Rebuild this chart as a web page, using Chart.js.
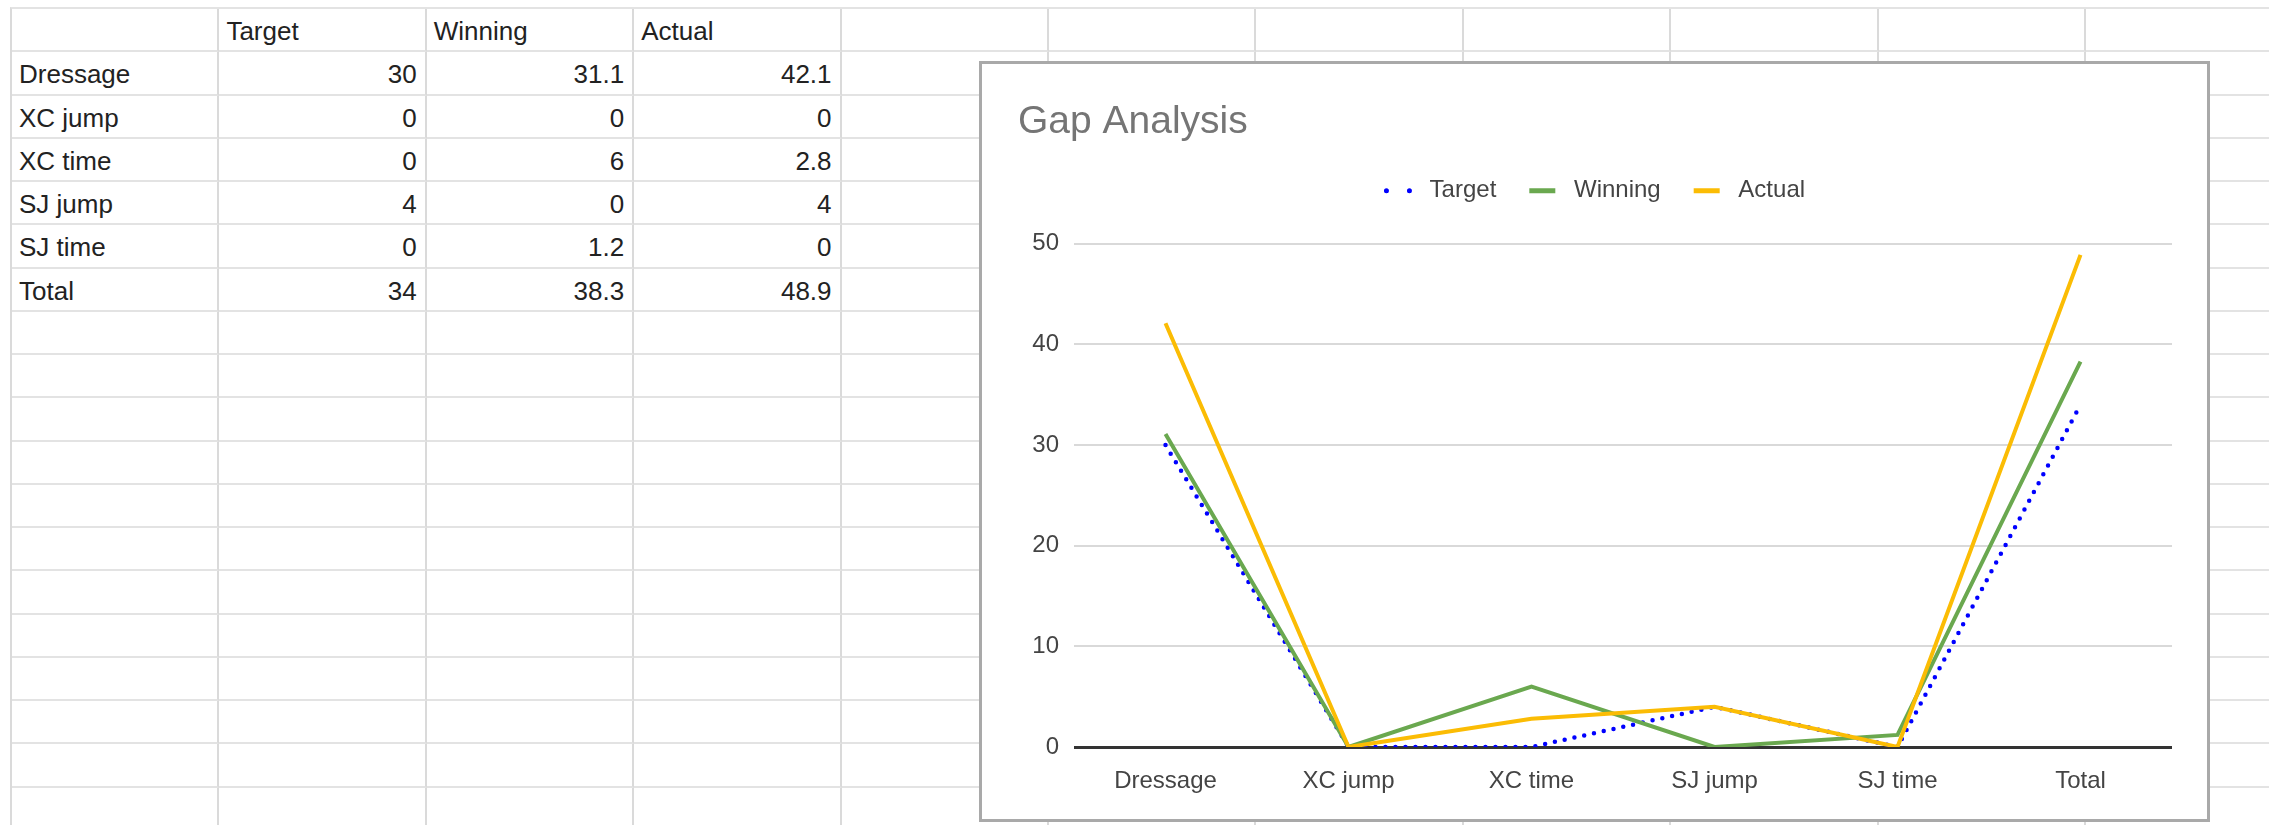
<!DOCTYPE html>
<html>
<head>
<meta charset="utf-8">
<title>Gap Analysis</title>
<script src="https://cdn.jsdelivr.net/npm/chart.js@4/dist/chart.umd.min.js"></script>
<style>
  html, body { margin: 0; padding: 0; background: #fff; }
  body {
    width: 2269px;
    height: 825px;
    overflow: hidden;
    position: relative;
    font-family: 'Liberation Sans', Arial, sans-serif;
  }
  .sheet {
    position: absolute;
    left: 10px;
    top: 7px;
    display: grid;
    grid-template-columns: repeat(11, 207.4px);
    grid-auto-rows: 43.25px;
    border-left: 2px solid #dadada;
    border-top: 2px solid #e3e3e3;
  }
  .cell {
    box-sizing: border-box;
    border-right: 2px solid #dadada;
    border-bottom: 2px solid #e3e3e3;
    padding: 0 8px 0 7px;
    font-size: 26px;
    line-height: 44.5px;
    color: #222;
    white-space: nowrap;
  }
  .cell.num { text-align: right; }
  .chart-box {
    position: absolute;
    left: 979px;
    top: 61px;
    width: 1231px;
    height: 761px;
    box-sizing: border-box;
    border: 3px solid #a9a9a9;
    background: #fff;
  }
  .chart-box canvas { display: block; }
</style>
</head>
<body>
<div class="sheet" id="sheet"></div>
<div class="chart-box">
  <canvas id="chart" width="1225" height="755"></canvas>
</div>
<script>
const categories = ['Dressage', 'XC jump', 'XC time', 'SJ jump', 'SJ time', 'Total'];
const seriesNames = ['Target', 'Winning', 'Actual'];
const target = [30, 0, 0, 4, 0, 34];
const winning = [31.1, 0, 6, 0, 1.2, 38.3];
const actual = [42.1, 0, 2.8, 4, 0, 48.9];
const yTicks = [0, 10, 20, 30, 40, 50];

// spreadsheet behind the chart
const sheet = document.getElementById('sheet');
const columns = [target, winning, actual];
const ROWS = 19;
const COLS = 11;
for (let r = 0; r < ROWS; r++) {
  for (let c = 0; c < COLS; c++) {
    const cell = document.createElement('div');
    cell.className = 'cell';
    if (r === 0 && c >= 1 && c <= columns.length) {
      cell.textContent = seriesNames[c - 1];
    } else if (r >= 1 && r <= categories.length) {
      if (c === 0) {
        cell.textContent = categories[r - 1];
      } else if (c <= columns.length) {
        cell.textContent = String(columns[c - 1][r - 1]);
        cell.classList.add('num');
      }
    }
    sheet.appendChild(cell);
  }
}

Chart.defaults.font.family = "'Liberation Sans', Arial, sans-serif";
Chart.defaults.color = '#444';

const baseLabels = Chart.defaults.plugins.legend.labels.generateLabels;
const ctx = document.getElementById('chart').getContext('2d');

new Chart(ctx, {
  type: 'line',
  data: {
    labels: categories,
    datasets: [
      {
        label: seriesNames[0],
        data: target,
        borderColor: '#0000ff',
        borderWidth: 4.5,
        borderDash: [0, 10],
        borderCapStyle: 'round',
        order: 3,
      },
      {
        label: seriesNames[1],
        data: winning,
        borderColor: '#6aa84f',
        borderWidth: 4,
        order: 2,
      },
      {
        label: seriesNames[2],
        data: actual,
        borderColor: '#fbbc04',
        borderWidth: 4,
        order: 1,
      },
    ],
  },
  options: {
    responsive: false,
    animation: false,
    elements: {
      point: { radius: 0 },
      line: { tension: 0, fill: false },
    },
    layout: {
      padding: { left: 36, right: 35, top: 0, bottom: 12 },
    },
    plugins: {
      title: {
        display: true,
        text: 'Gap Analysis',
        align: 'start',
        color: '#757575',
        font: { size: 39, weight: 'normal' },
        padding: { top: 35, bottom: 0 },
      },
      legend: {
        labels: {
          usePointStyle: true,
          pointStyle: 'line',
          pointStyleWidth: 26,
          padding: 33,
          color: '#444',
          font: { size: 24 },
          // keep sheet order in the legend, two dots for the dotted series
          generateLabels: (chart) => baseLabels(chart)
            .sort((a, b) => a.datasetIndex - b.datasetIndex)
            .map((item) => {
              item.text = ' ' + item.text;
              item.lineWidth = 5;
              if (item.datasetIndex === 0) {
                item.lineCap = 'round';
                item.lineDash = [0, 23];
                item.lineDashOffset = -1.5;
              }
              return item;
            }),
        },
      },
      tooltip: { enabled: false },
    },
    scales: {
      x: {
        offset: true,
        grid: { display: false },
        border: { display: false },
        ticks: { padding: 12, font: { size: 24 }, color: '#444' },
        afterFit: (scale) => { scale.height = 60; },
      },
      // empty band between legend and plot
      legendGap: {
        type: 'category',
        position: 'top',
        grid: { display: false },
        border: { display: false },
        ticks: { display: false },
        afterFit: (scale) => { scale.height = 31; },
      },
      y: {
        min: yTicks[0],
        max: yTicks[yTicks.length - 1],
        border: { display: false },
        ticks: {
          stepSize: yTicks[1] - yTicks[0],
          padding: 15,
          font: { size: 24 },
          color: '#444',
        },
        grid: {
          drawTicks: false,
          color: (c) => (c.tick && c.tick.value === 0 ? '#333' : '#d9d9d9'),
          lineWidth: (c) => (c.tick && c.tick.value === 0 ? 3 : 2),
        },
        afterFit: (scale) => { scale.width = 56; },
      },
    },
  },
});
</script>
</body>
</html>
